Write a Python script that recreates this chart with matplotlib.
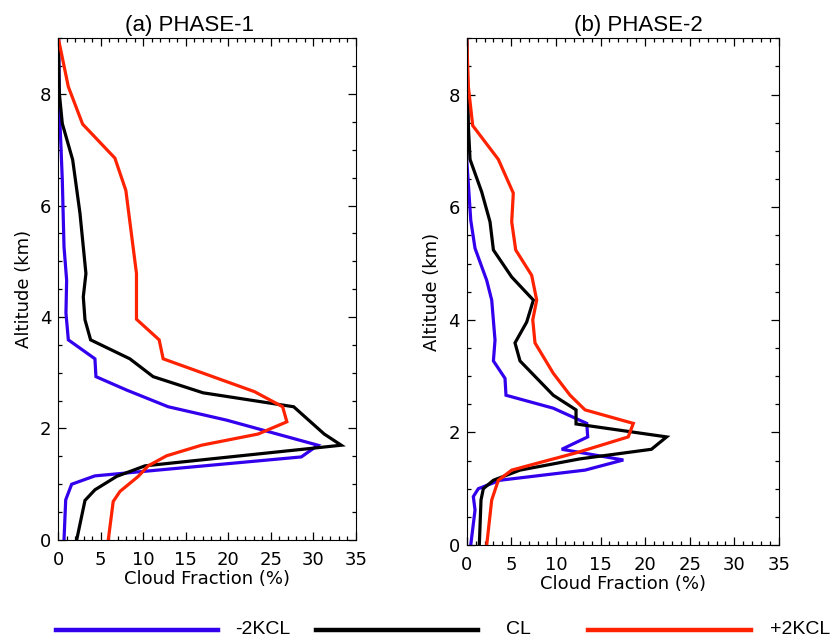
import matplotlib
matplotlib.use('Agg')
import matplotlib.pyplot as plt
from matplotlib.lines import Line2D
from matplotlib.ticker import MultipleLocator

# PHASE-1 profiles (cloud fraction %, altitude km)
p1_minus_z = [0, 0.72, 1.0, 1.15, 1.49, 1.70, 2.15, 2.39, 2.69, 2.93, 3.25, 3.59, 4.07, 4.66, 5.26, 6.46, 7.47, 8.0, 9.0]
p1_minus_x = [0.67, 0.87, 1.57, 4.31, 28.6, 30.55, 19.8, 12.93, 8.03, 4.43, 4.31, 1.18, 0.9, 0.98, 0.67, 0.47, 0.2, 0.1, 0.05]
p1_cl_z = [0, 0.71, 0.90, 1.14, 1.33, 1.70, 1.90, 2.39, 2.64, 2.93, 3.25, 3.59, 3.95, 4.36, 4.78, 5.86, 6.82, 7.47, 8.01, 9.0]
p1_cl_x = [2.16, 3.14, 4.31, 6.86, 10.2, 33.3, 31.3, 27.7, 17.04, 11.16, 8.42, 3.8, 3.14, 2.94, 3.25, 2.55, 1.69, 0.47, 0.12, 0.0]
p1_plus_z = [0, 0.69, 0.87, 1.14, 1.33, 1.51, 1.70, 1.90, 2.12, 2.39, 2.66, 3.25, 3.59, 3.96, 4.78, 6.27, 6.85, 7.46, 8.13, 9.0]
p1_plus_x = [5.88, 6.46, 7.25, 9.4, 10.58, 12.74, 16.85, 23.5, 26.9, 26.4, 23.1, 12.34, 11.87, 9.2, 9.2, 7.95, 6.66, 2.86, 1.18, 0.0]

# PHASE-2 profiles
p2_minus_z = [0, 0.62, 0.86, 1.0, 1.15, 1.33, 1.51, 1.70, 1.92, 2.16, 2.43, 2.66, 2.96, 3.27, 3.64, 4.35, 4.70, 5.27, 5.77, 6.85, 9.0]
p2_minus_x = [0.45, 0.93, 0.74, 1.3, 3.73, 13.26, 17.55, 10.65, 13.56, 13.45, 9.7, 4.4, 4.29, 2.99, 3.17, 2.8, 2.24, 0.93, 0.45, 0.0, 0.0]
p2_cl_z = [0, 0.8, 1.0, 1.15, 1.33, 1.53, 1.70, 1.92, 2.15, 2.40, 2.66, 3.27, 3.59, 3.96, 4.35, 4.76, 5.24, 5.74, 6.27, 6.85, 7.42, 9.0]
p2_cl_x = [1.41, 1.6, 1.86, 2.99, 5.97, 12.7, 20.7, 22.4, 12.25, 12.25, 9.7, 5.97, 5.41, 6.72, 7.47, 5.04, 2.99, 2.61, 1.68, 0.37, 0.19, 0.0]
p2_plus_z = [0, 0.8, 1.15, 1.33, 1.45, 1.64, 1.92, 2.16, 2.40, 2.66, 3.05, 3.59, 4.0, 4.35, 4.79, 5.24, 5.74, 6.25, 6.85, 7.45, 8.13, 9.0]
p2_plus_x = [2.24, 2.8, 3.54, 5.04, 7.84, 12.33, 18.1, 18.67, 13.26, 11.58, 9.7, 7.65, 7.4, 7.84, 7.28, 5.49, 5.04, 5.22, 3.54, 0.67, 0.19, 0.0]

titles = ['(a) PHASE-1', '(b) PHASE-2']
labels = ['-2KCL', 'CL', '+2KCL']
colors = ['#3300ee', 'black', '#ff2200']

fig = plt.figure(figsize=(8.33, 6.42), dpi=100)
ax1 = fig.add_axes([0.070, 0.1589, 0.357, 0.7815])
ax2 = fig.add_axes([0.5603, 0.1511, 0.3749, 0.7892])

panels = [
    (ax1, [(p1_minus_x, p1_minus_z), (p1_cl_x, p1_cl_z), (p1_plus_x, p1_plus_z)], 0.442),
    (ax2, [(p2_minus_x, p2_minus_z), (p2_cl_x, p2_cl_z), (p2_plus_x, p2_plus_z)], 0.549),
]

for i, (ax, curves, tx) in enumerate(panels):
    for (x, z), c in zip(curves, colors):
        ax.plot(x, z, color=c, lw=2.3, solid_joinstyle='miter')
    ax.set_xlim(0, 35)
    ax.set_ylim(0, 9)
    ax.xaxis.set_major_locator(MultipleLocator(5))
    ax.xaxis.set_minor_locator(MultipleLocator(1))
    ax.yaxis.set_major_locator(MultipleLocator(2))
    ax.yaxis.set_minor_locator(MultipleLocator(0.5))
    ax.tick_params(which='both', direction='in', top=True, right=True, labelsize=13)
    ax.tick_params(which='major', length=6, width=0.9)
    ax.tick_params(which='minor', length=3, width=0.9)
    ax.tick_params(axis='x', pad=8)
    ax.tick_params(axis='y', pad=5)
    ax.set_xlabel('Cloud Fraction (%)', fontsize=13, labelpad=1)
    ax.set_ylabel('Altitude (km)', fontsize=13, labelpad=5)
    ax.set_title(titles[i], fontsize=16, family='Liberation Sans', x=tx, pad=5)

# legend along the bottom
line_starts = [0.067, 0.379, 0.706]
for s, c in zip(line_starts, colors):
    fig.add_artist(Line2D([s, s + 0.195], [0.019, 0.019], color=c, lw=3.2))
text_x = [0.282, 0.607, 0.924]
for tx, lab in zip(text_x, labels):
    fig.text(tx, 0.019, lab, fontsize=14, family='Liberation Sans', va='center', ha='left')

fig.savefig('out.png', dpi=100)
